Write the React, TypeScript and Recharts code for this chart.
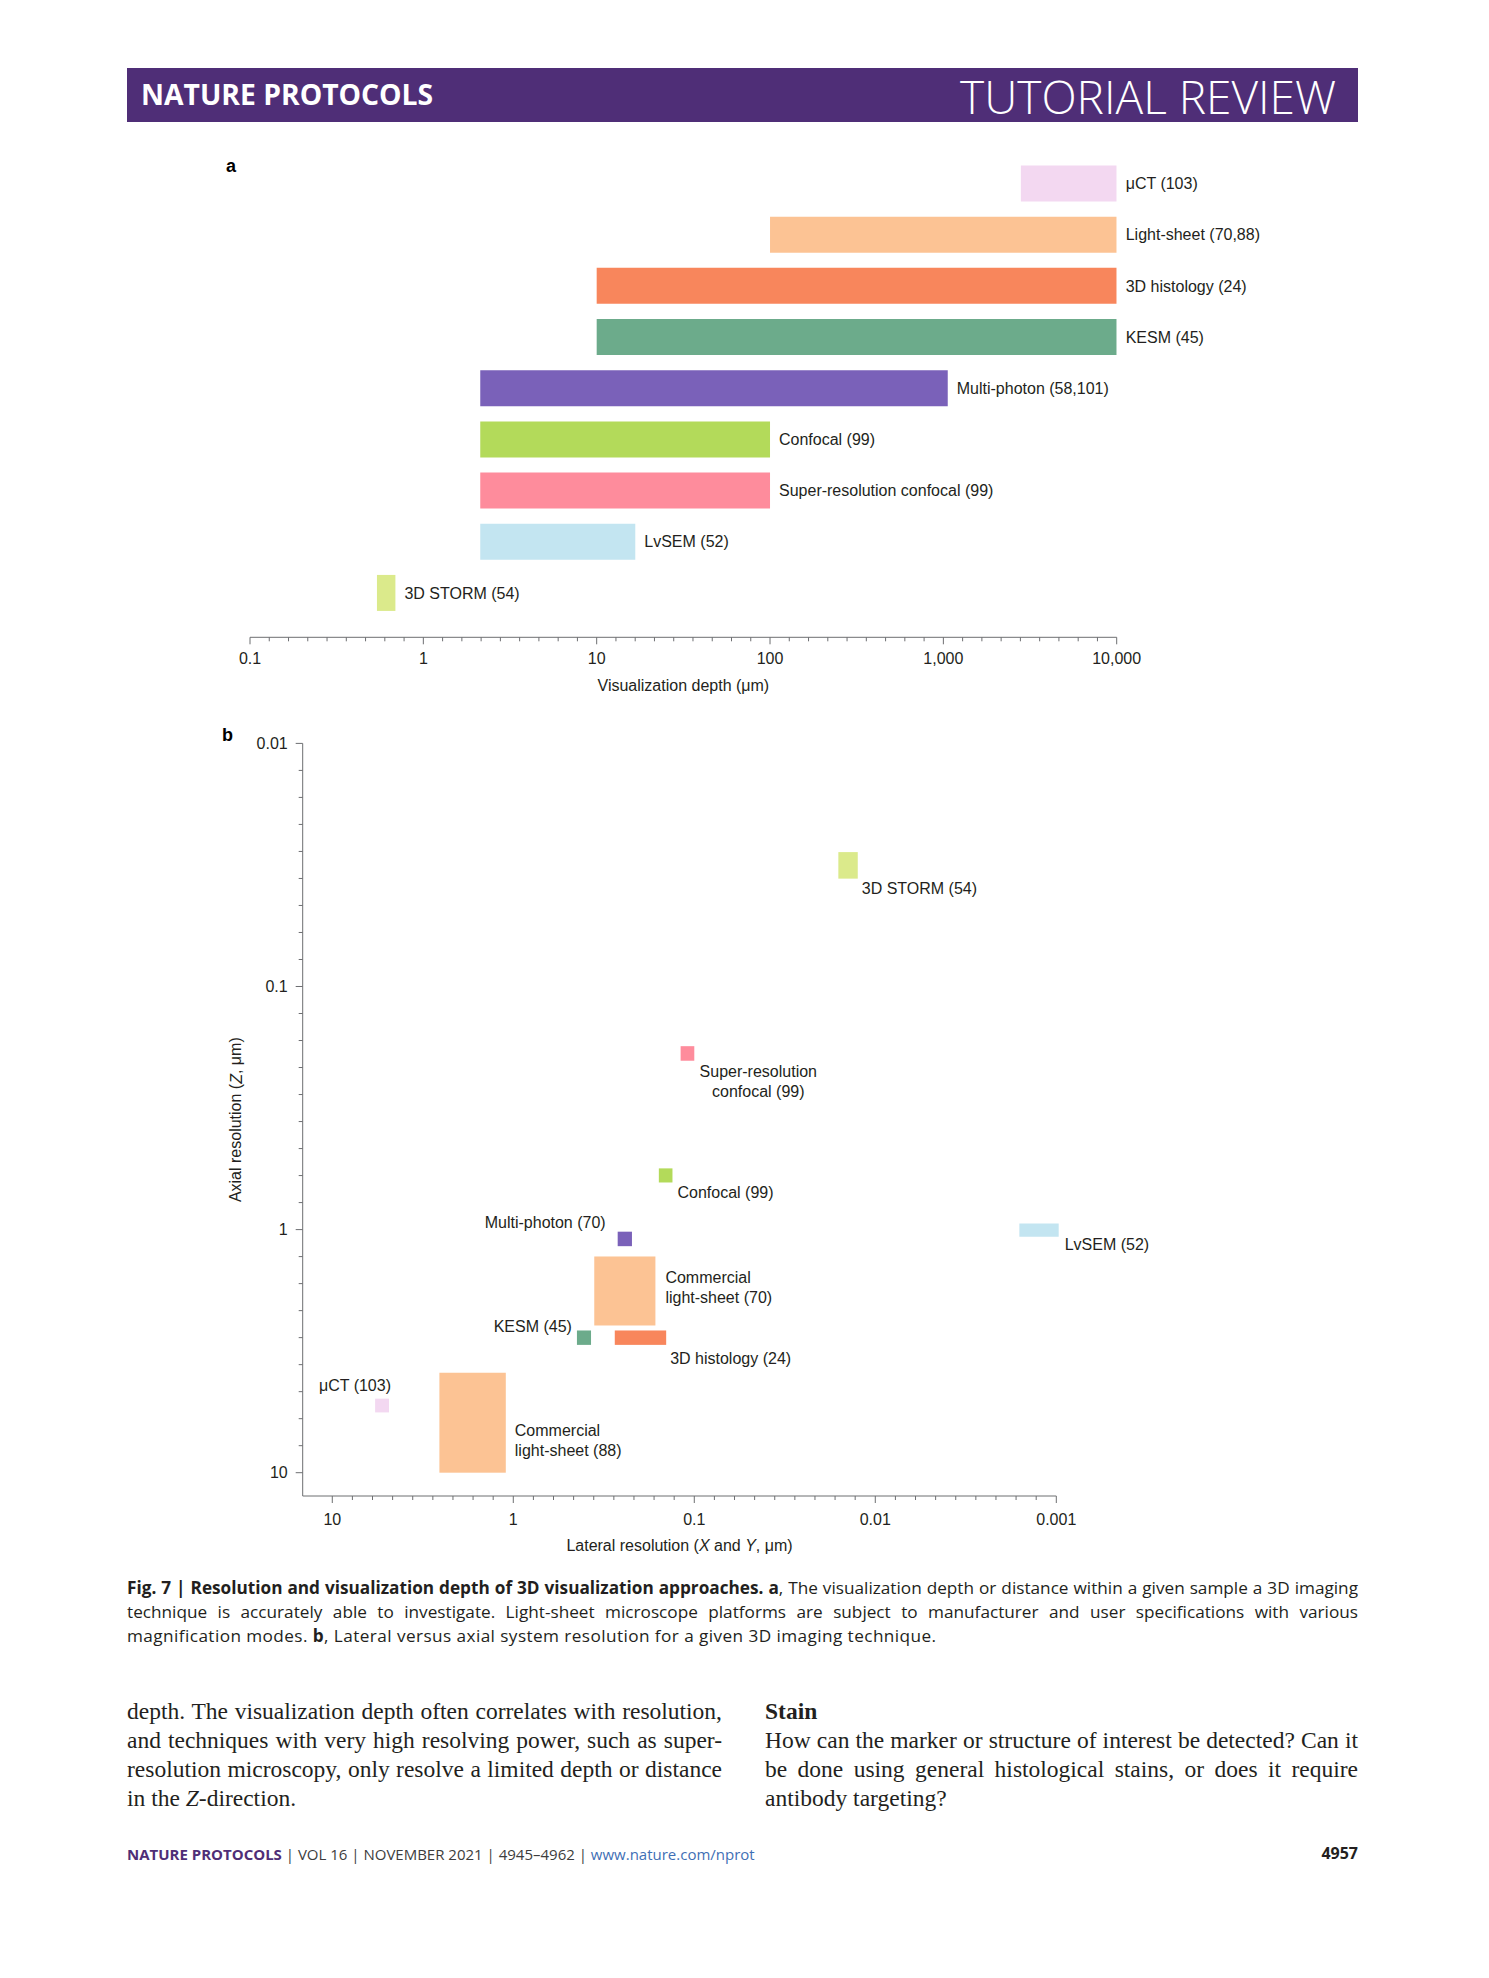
import React from "react";
import {
  BarChart,
  Bar,
  Cell,
  XAxis,
  YAxis,
  LabelList,
  Label,
  ScatterChart,
  ReferenceArea,
} from "recharts";

const SANS = "'Liberation Sans', Arial, Helvetica, sans-serif";
const CAPTION_FONT = "'Open Sans', 'Noto Sans', sans-serif";
const SERIF = "'Liberation Serif', 'Times New Roman', serif";
const INK = "#231f20";
const AXIS_GRAY = "#6d6e71";
const PURPLE = "#4f2e77";

// ---- panel a: visualization depth (µm) ----
const DEPTH_TECHNIQUES = [
  "μCT (103)",
  "Light-sheet (70,88)",
  "3D histology (24)",
  "KESM (45)",
  "Multi-photon (58,101)",
  "Confocal (99)",
  "Super-resolution confocal (99)",
  "LvSEM (52)",
  "3D STORM (54)",
];
const DEPTH_FROM = [2800, 100, 10, 10, 2.13, 2.13, 2.13, 2.13, 0.54];
const DEPTH_TO = [10000, 10000, 10000, 10000, 1060, 100, 100, 16.7, 0.69];
const DEPTH_COLORS = [
  "#f3d8f1",
  "#fcc394",
  "#f8865c",
  "#6cab8b",
  "#7a61b9",
  "#b3da5a",
  "#fe8c9c",
  "#c3e5f1",
  "#dbea8b",
];
const DEPTH_MAJOR = [0.1, 1, 10, 100, 1000, 10000];
const DEPTH_MAJOR_LABELS = ["0.1", "1", "10", "100", "1,000", "10,000"];

// ---- panel b: lateral vs axial resolution (µm) ----
const RES_TECHNIQUES = [
  "3D STORM (54)",
  "Super-resolution\nconfocal (99)",
  "Confocal (99)",
  "Multi-photon (70)",
  "Commercial\nlight-sheet (70)",
  "KESM (45)",
  "3D histology (24)",
  "μCT (103)",
  "Commercial\nlight-sheet (88)",
  "LvSEM (52)",
];
const RES_LATERAL_MAX = [0.016, 0.119, 0.157, 0.265, 0.357, 0.445, 0.275, 5.8, 2.56, 0.0016];
const RES_LATERAL_MIN = [0.0125, 0.1, 0.132, 0.221, 0.164, 0.372, 0.143, 4.86, 1.1, 0.00097];
const RES_AXIAL_MIN = [0.028, 0.176, 0.56, 1.02, 1.29, 2.6, 2.6, 4.96, 3.88, 0.944];
const RES_AXIAL_MAX = [0.036, 0.202, 0.64, 1.17, 2.48, 2.98, 2.98, 5.65, 10, 1.07];
const RES_COLORS = [
  "#dbea8b",
  "#fe8c9c",
  "#b3da5a",
  "#7a61b9",
  "#fcc394",
  "#6cab8b",
  "#f8865c",
  "#f3d8f1",
  "#fcc394",
  "#c3e5f1",
];
const LATERAL_MAJOR = [0.001, 0.01, 0.1, 1, 10];
const LATERAL_MAJOR_LABELS = ["0.001", "0.01", "0.1", "1", "10"];
const AXIAL_MAJOR = [0.01, 0.1, 1, 10];
const AXIAL_MAJOR_LABELS = ["0.01", "0.1", "1", "10"];

// where each panel-b label sits relative to its box (layout only)
type Place = { anchor: "start" | "middle" | "end"; side: "left" | "right"; dx: number; edge: "top" | "bottom"; dy: number };
const RES_LABEL_PLACE: Place[] = [
  { anchor: "start", side: "right", dx: 4, edge: "bottom", dy: 10 },
  { anchor: "middle", side: "right", dx: 64, edge: "bottom", dy: 11 },
  { anchor: "start", side: "right", dx: 5, edge: "bottom", dy: 10 },
  { anchor: "end", side: "left", dx: -12, edge: "top", dy: -9 },
  { anchor: "start", side: "right", dx: 10, edge: "top", dy: 21 },
  { anchor: "end", side: "left", dx: -5, edge: "top", dy: -4 },
  { anchor: "start", side: "right", dx: 4, edge: "bottom", dy: 14 },
  { anchor: "end", side: "right", dx: 2, edge: "top", dy: -13 },
  { anchor: "start", side: "right", dx: 9, edge: "top", dy: 58 },
  { anchor: "start", side: "right", dx: 6, edge: "bottom", dy: 8 },
];

// eight evenly spaced minor marks per decade, as on the original axes
function decadeTicks(majors: number[]) {
  const sorted = [...majors].sort((a, b) => a - b);
  const out: number[] = [];
  sorted.forEach((m, i) => {
    out.push(m);
    if (i < sorted.length - 1) {
      for (let k = 1; k <= 8; k++) out.push(m * Math.pow(10, k / 9));
    }
  });
  return out;
}

function majorLabel(v: number, majors: number[], labels: string[]) {
  const i = majors.findIndex((m) => Math.abs(v / m - 1) < 1e-6);
  return i >= 0 ? labels[i] : null;
}

function BottomTick(props: any) {
  const { x, y, payload, majors, labels, labelDy } = props;
  const label = majorLabel(payload.value, majors, labels);
  return (
    <g>
      <line x1={x} x2={x} y1={y} y2={y + (label ? 7 : 4)} stroke={AXIS_GRAY} strokeWidth={1} />
      {label && (
        <text x={x} y={y + labelDy} textAnchor="middle" dominantBaseline="central" fill={INK} fontSize={16} fontFamily={SANS}>
          {label}
        </text>
      )}
    </g>
  );
}

function LeftTick(props: any) {
  const { x, y, payload } = props;
  const label = majorLabel(payload.value, AXIAL_MAJOR, AXIAL_MAJOR_LABELS);
  return (
    <g>
      <line x1={x} x2={x - (label ? 7 : 4)} y1={y} y2={y} stroke={AXIS_GRAY} strokeWidth={1} />
      {label && (
        <text x={x - 15} y={y} textAnchor="end" dominantBaseline="central" fill={INK} fontSize={16} fontFamily={SANS}>
          {label}
        </text>
      )}
    </g>
  );
}

function TechniqueBox(props: any) {
  const { x, y, width, height, color, text, place } = props;
  const p: Place = place;
  const lines = String(text).split("\n");
  const tx = (p.side === "right" ? x + width : x) + p.dx;
  const ty = (p.edge === "top" ? y : y + height) + p.dy;
  return (
    <g>
      <rect x={x} y={y} width={width} height={height} fill={color} />
      {lines.map((line, i) => (
        <text
          key={i}
          x={tx}
          y={ty + i * 20}
          textAnchor={p.anchor}
          dominantBaseline="central"
          fill={INK}
          fontSize={16}
          fontFamily={SANS}
        >
          {line}
        </text>
      ))}
    </g>
  );
}

function DepthChart() {
  const data = DEPTH_TECHNIQUES.map((name, i) => ({
    name,
    range: [DEPTH_FROM[i], DEPTH_TO[i]],
  }));
  return (
    <BarChart
      width={1489}
      height={720}
      data={data}
      layout="vertical"
      margin={{ top: 157.5, right: 372.3, bottom: 22.7, left: 250 }}
      barSize={36}
    >
      <XAxis
        type="number"
        scale="log"
        domain={[0.1, 10000]}
        allowDataOverflow
        ticks={decadeTicks(DEPTH_MAJOR)}
        interval={0}
        height={60}
        tickSize={0}
        tickMargin={0}
        tickLine={false}
        axisLine={{ stroke: AXIS_GRAY, strokeWidth: 1 }}
        tick={(p: any) => <BottomTick {...p} majors={DEPTH_MAJOR} labels={DEPTH_MAJOR_LABELS} labelDy={21} />}
      >
        <Label
          content={(p: any) => {
            const vb = p.viewBox || { x: 250, y: 637.3, width: 866.7 };
            return (
              <text x={vb.x + vb.width / 2} y={vb.y + 48} textAnchor="middle" dominantBaseline="central" fill={INK} fontSize={16} fontFamily={SANS}>
                Visualization depth (μm)
              </text>
            );
          }}
        />
      </XAxis>
      <YAxis type="category" dataKey="name" hide width={0} padding={{ top: 0, bottom: 19.2 }} />
      <Bar dataKey="range" isAnimationActive={false}>
        {data.map((d, i) => (
          <Cell key={d.name} fill={DEPTH_COLORS[i]} />
        ))}
        <LabelList dataKey="name" position="right" offset={9} fill={INK} fontSize={16} fontFamily={SANS} />
      </Bar>
    </BarChart>
  );
}

function ResolutionChart() {
  return (
    <ScatterChart width={1489} height={880} margin={{ top: 43.4, right: 432.7, bottom: 24, left: 222.7 }}>
      <XAxis
        type="number"
        dataKey="x"
        scale="log"
        domain={[0.001, 14.57]}
        allowDataOverflow
        reversed
        ticks={decadeTicks(LATERAL_MAJOR)}
        interval={0}
        height={60}
        tickSize={0}
        tickMargin={0}
        tickLine={false}
        axisLine={{ stroke: AXIS_GRAY, strokeWidth: 1 }}
        tick={(p: any) => <BottomTick {...p} majors={LATERAL_MAJOR} labels={LATERAL_MAJOR_LABELS} labelDy={23} />}
      >
        <Label
          content={(p: any) => {
            const vb = p.viewBox || { x: 302.7, y: 796, width: 753.6 };
            return (
              <text x={vb.x + vb.width / 2} y={vb.y + 49} textAnchor="middle" dominantBaseline="central" fill={INK} fontSize={16} fontFamily={SANS}>
                Lateral resolution (<tspan fontStyle="italic">X</tspan> and <tspan fontStyle="italic">Y</tspan>, μm)
              </text>
            );
          }}
        />
      </XAxis>
      <YAxis
        type="number"
        dataKey="y"
        scale="log"
        domain={[0.01, 12.47]}
        allowDataOverflow
        reversed
        ticks={decadeTicks(AXIAL_MAJOR)}
        interval={0}
        width={80}
        tickSize={0}
        tickMargin={0}
        tickLine={false}
        axisLine={{ stroke: AXIS_GRAY, strokeWidth: 1 }}
        tick={(p: any) => <LeftTick {...p} />}
      >
        <Label
          content={(p: any) => {
            const vb = p.viewBox || { x: 222.7, y: 43.4, width: 80, height: 752.6 };
            const cx = vb.x + vb.width - 67;
            const cy = vb.y + vb.height / 2;
            return (
              <text x={cx} y={cy} transform={`rotate(-90 ${cx} ${cy})`} textAnchor="middle" dominantBaseline="central" fill={INK} fontSize={16} fontFamily={SANS}>
                Axial resolution (<tspan fontStyle="italic">Z</tspan>, μm)
              </text>
            );
          }}
        />
      </YAxis>
      {RES_TECHNIQUES.map((name, i) => (
        <ReferenceArea
          key={name}
          x1={RES_LATERAL_MAX[i]}
          x2={RES_LATERAL_MIN[i]}
          y1={RES_AXIAL_MIN[i]}
          y2={RES_AXIAL_MAX[i]}
          fill={RES_COLORS[i]}
          fillOpacity={1}
          ifOverflow="visible"
          shape={(p: any) => <TechniqueBox {...p} color={RES_COLORS[i]} text={name} place={RES_LABEL_PLACE[i]} />}
        />
      ))}
    </ScatterChart>
  );
}

const abs = (top: number, left: number): React.CSSProperties => ({ position: "absolute", top, left });

function Line({ top, children, justify, left = 127, width = 1231, font, size, lh, spacing = 0 }: any) {
  return (
    <div
      style={{
        ...abs(top, left),
        width,
        fontFamily: font,
        fontSize: size,
        lineHeight: `${lh}px`,
        letterSpacing: spacing,
        color: INK,
        whiteSpace: "nowrap",
        textAlign: justify ? "justify" : "left",
        textAlignLast: justify ? "justify" : "left",
      }}
    >
      {children}
    </div>
  );
}

export default function App() {
  const cap = { font: CAPTION_FONT, size: 17.2, lh: 24 };
  const body = { font: SERIF, size: 23.5, lh: 29 };
  return (
    <div style={{ position: "absolute", top: 0, left: 0, width: 1489, height: 1978, background: "#fff", overflow: "hidden" }}>
      {/* header band */}
      <div style={{ ...abs(68, 127), width: 1231, height: 54, background: PURPLE }} />
      <div style={{ ...abs(76, 141), color: "#fff", fontFamily: "'Open Sans', sans-serif", fontWeight: 700, fontSize: 28.3, lineHeight: "36px" }}>
        NATURE PROTOCOLS
      </div>
      <div style={{ ...abs(66, 900), width: 436, textAlign: "right", color: "#fff", fontFamily: "'Open Sans', sans-serif", fontWeight: 300, fontSize: 46, lineHeight: "60px" }}>
        TUTORIAL REVIEW
      </div>

      <div style={{ ...abs(156, 226), fontFamily: SANS, fontWeight: 700, fontSize: 18 }}>a</div>
      <div style={{ ...abs(725, 222), fontFamily: SANS, fontWeight: 700, fontSize: 18 }}>b</div>

      <div style={abs(0, 0)}>
        <DepthChart />
      </div>
      <div style={abs(700, 0)}>
        <ResolutionChart />
      </div>

      {/* caption */}
      <Line top={1575.5} justify {...cap}>
        <b>Fig. 7 | Resolution and visualization depth of 3D visualization approaches. a</b>, The visualization depth or distance within a given sample a 3D imaging
      </Line>
      <Line top={1599.5} justify {...cap}>
        technique is accurately able to investigate. Light-sheet microscope platforms are subject to manufacturer and user specifications with various
      </Line>
      <Line top={1623.5} spacing={0.42} {...cap}>
        magnification modes. <b>b</b>, Lateral versus axial system resolution for a given 3D imaging technique.
      </Line>

      {/* body text */}
      <Line top={1696.5} left={127} width={595} justify {...body}>
        depth. The visualization depth often correlates with resolution,
      </Line>
      <Line top={1725.5} left={127} width={595} justify {...body}>
        and techniques with very high resolving power, such as super-
      </Line>
      <Line top={1754.5} left={127} width={595} justify {...body}>
        resolution microscopy, only resolve a limited depth or distance
      </Line>
      <Line top={1783.5} left={127} width={595} {...body}>
        in the <i>Z</i>-direction.
      </Line>
      <Line top={1696.5} left={765} width={593} {...body}>
        <b>Stain</b>
      </Line>
      <Line top={1725.5} left={765} width={593} justify {...body}>
        How can the marker or structure of interest be detected? Can it
      </Line>
      <Line top={1754.5} left={765} width={593} justify {...body}>
        be done using general histological stains, or does it require
      </Line>
      <Line top={1783.5} left={765} width={593} {...body}>
        antibody targeting?
      </Line>

      {/* footer */}
      <div style={{ ...abs(1843, 127), fontFamily: CAPTION_FONT, fontSize: 15, lineHeight: "22px", color: "#3d3d3d", whiteSpace: "nowrap" }}>
        <span style={{ color: PURPLE, fontWeight: 700 }}>NATURE PROTOCOLS</span>
        {" | VOL 16 | NOVEMBER 2021 | 4945–4962 | "}
        <span style={{ color: "#3f6fb5" }}>www.nature.com/nprot</span>
      </div>
      <div style={{ ...abs(1842, 1258), width: 100, textAlign: "right", fontFamily: CAPTION_FONT, fontWeight: 700, fontSize: 16, lineHeight: "22px", color: INK }}>
        4957
      </div>
    </div>
  );
}
